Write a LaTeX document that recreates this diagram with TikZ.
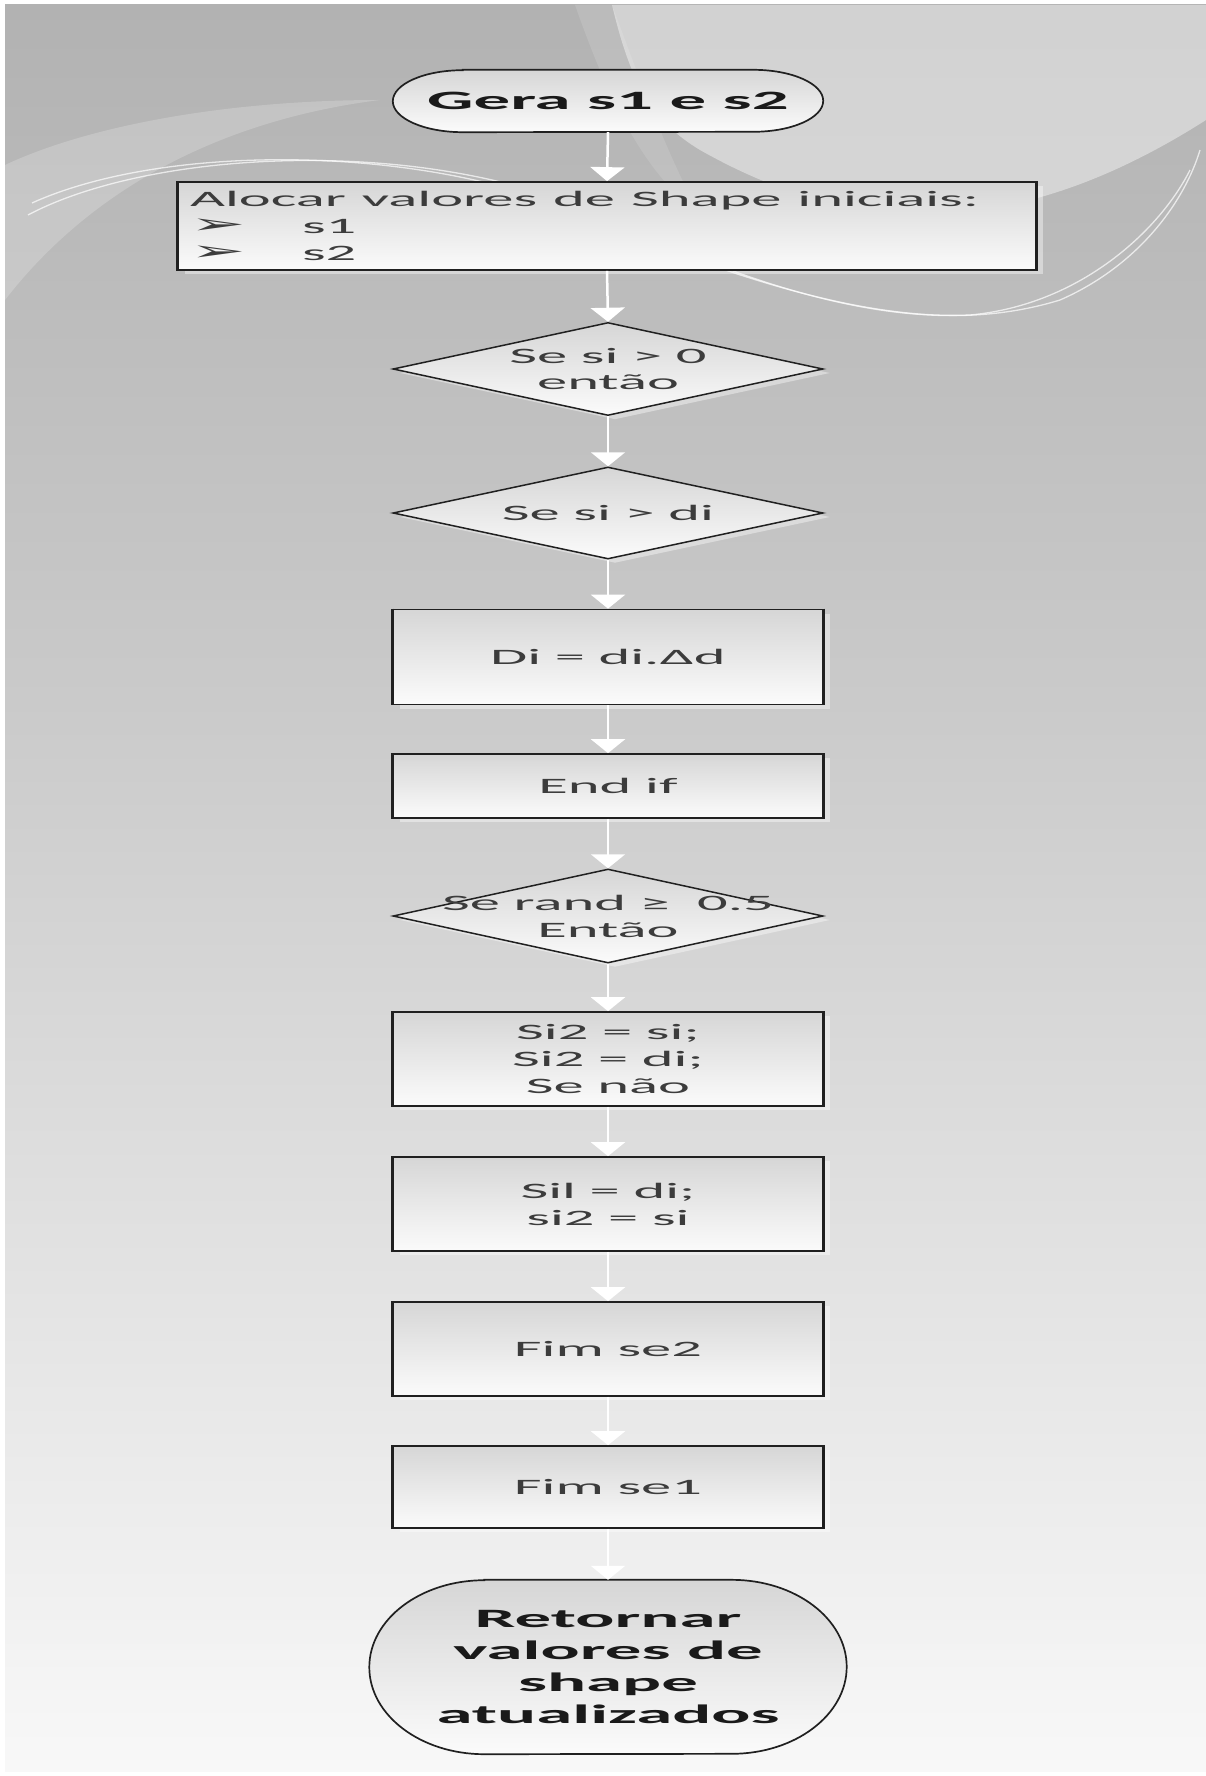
\documentclass[tikz,border=0pt]{standalone}
\usepackage{fontspec}
\newfontfamily\wf[FakeStretch=2.75]{Carlito}
\newfontfamily\wfs[FakeStretch=2.0]{DejaVu Sans}
\usetikzlibrary{shapes.geometric,arrows.meta,shadows}
\definecolor{bgtop}{HTML}{B2B2B2}
\definecolor{bgmid}{HTML}{CACACA}
\definecolor{bgbot}{HTML}{F8F8F8}
\definecolor{fillt}{HTML}{D6D6D6}
\definecolor{fillb}{HTML}{FBFBFB}
\definecolor{edgec}{HTML}{202020}
\definecolor{txtc}{HTML}{3C3C3C}
\definecolor{boldc}{HTML}{1A1A1A}
\newcommand\regfont{\wf\fontsize{22}{27}\selectfont}
\newcommand\boldfont{\wf\bfseries\fontsize{26.5}{31.7}\selectfont}
\newcommand\bulmark{\makebox[112pt][l]{\scalebox{1.5}[1.25]{\wfs\fontsize{22}{27}\selectfont ➢}}}
\pgfdeclarelayer{deco}
\pgfdeclarelayer{shapes}
\pgfsetlayers{deco,shapes,main}
\begin{document}
\begin{tikzpicture}[x=1pt,y=-1pt,
  shfill/.style={top color=fillt, bottom color=fillb, draw=edgec, line width=1.7pt},
  flowbox/.style={rectangle, shfill, inner sep=0pt, minimum width=430pt,
    align=center, font=\regfont, text=txtc,
    drop shadow={shadow xshift=7pt, shadow yshift=-4pt, fill=white, opacity=0.4}},
  dia/.style={diamond, shfill, line width=1.5pt, inner sep=0pt, minimum width=430pt,
    minimum height=93pt,
    drop shadow={shadow xshift=7pt, shadow yshift=-4pt, fill=white, opacity=0.4}},
  dtext/.style={align=center, font=\regfont, text=txtc, inner sep=0pt},
  term/.style={inner sep=0pt, align=center, font=\boldfont, text=boldc},
  arr/.style={draw=white, line width=2.5pt, -{Triangle[width=34pt,length=14pt]}},
  swirl/.style={draw=white, line width=1.3pt, opacity=0.7},
  vside/.style={draw=edgec, line width=3.2pt}
]
\useasboundingbox (0,0) rectangle (1206,1776);

% ---------- background ----------
\begin{pgfonlayer}{deco}
\fill[white] (0,0) rectangle (1206,1776);
\shade[top color=bgtop, bottom color=bgmid] (5,5) rectangle (1206,701);
\shade[top color=bgmid, bottom color=bgbot] (5,700) rectangle (1206,1771);
\fill[white, opacity=0.42] (612,5) .. controls (630,80) and (650,120) .. (700,150)
  .. controls (850,235) and (1010,245) .. (1206,120) -- (1206,5) -- cycle;
\fill[white, opacity=0.12] (575,5) .. controls (605,90) and (640,170) .. (700,215)
  .. controls (665,150) and (640,80) .. (612,5) -- cycle;
\fill[white, opacity=0.2] (5,300) .. controls (90,190) and (220,120) .. (380,100)
  .. controls (230,100) and (90,125) .. (5,165) -- cycle;
\draw[swirl] (28,215) .. controls (150,150) and (420,135) .. (600,215)
  .. controls (780,300) and (930,340) .. (1060,300) .. controls (1140,265) and (1185,200) .. (1200,150);
\draw[swirl] (32,203) .. controls (160,145) and (400,145) .. (560,205)
  .. controls (720,275) and (860,320) .. (970,315) .. controls (1080,305) and (1160,230) .. (1190,170);
\end{pgfonlayer}

% ---------- nodes ----------
\node[term, minimum width=430pt, minimum height=62pt] (gera) at (608,101) {Gera s1 e s2};

\node[flowbox, minimum width=858pt, minimum height=88pt, text width=834pt, align=left,
      inner xsep=12pt] (aloc) at (607,226)
  {\spaceskip=16pt plus 2pt minus 2pt Alocar valores de Shape iniciais:\\
   \bulmark s1\\
   \bulmark s2};

\node[dia, minimum height=93pt] (d1) at (608,369) {};
\node[dtext] (d1t) at (d1) {Se si > 0\\[-1pt]então};

\node[dia, minimum height=92pt] (d2) at (608,513) {};
\node[dtext] (d2t) at (d2) {Se si > di};

\node[flowbox, minimum height=95pt] (b1) at (608,657) {Di = di.Δd};
\node[flowbox, minimum height=64pt] (b2) at (608,786) {End if};

\node[dia, minimum height=94pt] (d3) at (608,916) {};
\node[dtext] (d3t) at (d3) {Se rand ≥~~0.5\\Então};

\node[flowbox, minimum height=94pt] (b3) at (608,1059) {Si2 = si;\\Si2 = di;\\Se não};
\node[flowbox, minimum height=94pt] (b4) at (608,1204) {Sil = di;\\si2 = si};
\node[flowbox, minimum height=94pt] (b5) at (608,1349) {Fim se2};
\node[flowbox, minimum height=82pt] (b6) at (608,1487) {Fim se1};

\node[term, minimum width=477pt, minimum height=174pt] (fim) at (608,1667)
  {Retornar\\valores de\\shape\\atualizados};

% thicker vertical sides (horizontally stretched look)
\foreach \n in {aloc,b1,b2,b3,b4,b5,b6}{
  \draw[vside] (\n.north west) -- (\n.south west) (\n.north east) -- (\n.south east);
}

% ---------- terminal outlines ----------
\begin{pgfonlayer}{shapes}
\fill[white, opacity=0.4, xshift=6pt, yshift=-4pt]
  ([xshift=70pt]gera.north west) -- ([xshift=-70pt]gera.north east)
  arc[start angle=-90, end angle=90, x radius=70, y radius=31]
  -- ([xshift=70pt]gera.south west)
  arc[start angle=90, end angle=270, x radius=70, y radius=31] -- cycle;
\shade[shfill]
  ([xshift=70pt]gera.north west) -- ([xshift=-70pt]gera.north east)
  arc[start angle=-90, end angle=90, x radius=70, y radius=31]
  -- ([xshift=70pt]gera.south west)
  arc[start angle=90, end angle=270, x radius=70, y radius=31] -- cycle;
\fill[white, opacity=0.4, xshift=6pt, yshift=-4pt]
  ([xshift=115pt]fim.north west) -- ([xshift=-115pt]fim.north east)
  arc[start angle=-90, end angle=90, x radius=115, y radius=87]
  -- ([xshift=115pt]fim.south west)
  arc[start angle=90, end angle=270, x radius=115, y radius=87] -- cycle;
\shade[shfill]
  ([xshift=115pt]fim.north west) -- ([xshift=-115pt]fim.north east)
  arc[start angle=-90, end angle=90, x radius=115, y radius=87]
  -- ([xshift=115pt]fim.south west)
  arc[start angle=90, end angle=270, x radius=115, y radius=87] -- cycle;
\end{pgfonlayer}

% ---------- connectors ----------
\draw[arr] (gera.south) -- (aloc.north);
\draw[arr] (aloc.south) -- (d1.north);
\draw[arr] (d1.south) -- (d2.north);
\draw[arr] (d2.south) -- (b1.north);
\draw[arr] (b1.south) -- (b2.north);
\draw[arr] (b2.south) -- (d3.north);
\draw[arr] (d3.south) -- (b3.north);
\draw[arr] (b3.south) -- (b4.north);
\draw[arr] (b4.south) -- (b5.north);
\draw[arr] (b5.south) -- (b6.north);
\draw[arr] (b6.south) -- (fim.north);
\end{tikzpicture}
\end{document}
